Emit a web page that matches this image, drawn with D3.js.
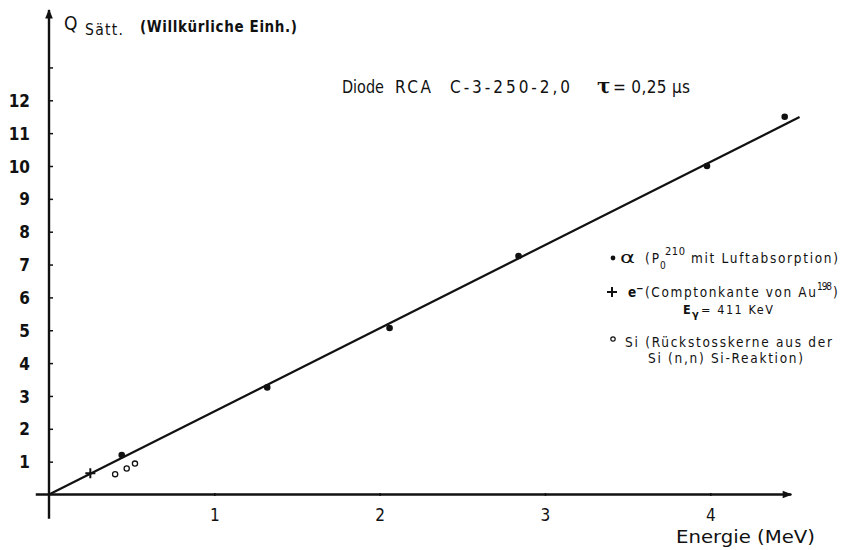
<!DOCTYPE html>
<html>
<head>
<meta charset="utf-8">
<script src="https://cdn.jsdelivr.net/npm/d3@7"></script>
<style>
  html, body { margin: 0; padding: 0; background: #fff; }
  svg { display: block; }
  text { font-family: "DejaVu Sans Condensed", "DejaVu Sans", sans-serif; fill: #111; }
</style>
</head>
<body>
<svg id="chart" width="865" height="550"></svg>
<script>
// Measured saturation charge vs. particle energy
const alphaEnergy = [0.44, 1.32, 2.06, 2.84, 3.98, 4.45];
const alphaCharge = [1.20, 3.26, 5.07, 7.26, 10.0, 11.5];
const electronEnergy = [0.25];
const electronCharge = [0.65];
const siEnergy = [0.40, 0.47, 0.52];
const siCharge = [0.62, 0.79, 0.94];
// Straight-line fit through the origin
const fitEnergy = [0, 4.54];
const fitCharge = [0, 11.49];

const xTicks = [1, 2, 3, 4];
const yTicks = [1, 2, 3, 4, 5, 6, 7, 8, 9, 10, 11, 12, 13];
const yTickLabels = ["1", "2", "3", "4", "5", "6", "7", "8", "9", "10", "11", "12", ""];

const svg = d3.select("#chart");
const x = d3.scaleLinear().domain([0, 4]).range([49, 710.3]);
const y = d3.scaleLinear().domain([0, 12]).range([494.5, 100.3]);
const ink = "#111";

// Axes lines with arrow heads
svg.append("defs").append("marker")
  .attr("id", "arrow").attr("viewBox", "0 0 10 10")
  .attr("refX", 9).attr("refY", 5)
  .attr("markerWidth", 5).attr("markerHeight", 4)
  .attr("orient", "auto")
  .append("path").attr("d", "M0,1 L10,5 L0,9 Z").attr("fill", ink);

svg.append("line")
  .attr("x1", x(-0.08)).attr("x2", x(4.49))
  .attr("y1", y(0)).attr("y2", y(0))
  .attr("stroke", ink).attr("stroke-width", 2.4)
  .attr("marker-end", "url(#arrow)");
svg.append("line")
  .attr("x1", x(0)).attr("x2", x(0))
  .attr("y1", y(-0.74)).attr("y2", y(14.75))
  .attr("stroke", ink).attr("stroke-width", 2.4)
  .attr("marker-end", "url(#arrow)");

// X axis ticks and labels
const xAxis = d3.axisBottom(x).tickValues(xTicks).tickSize(3).tickFormat(d3.format("d"));
const gx = svg.append("g").attr("transform", `translate(0,${y(0) - 1.5})`).call(xAxis);
gx.select(".domain").remove();
gx.selectAll(".tick line").attr("stroke", ink).attr("stroke-width", 1.5);
gx.selectAll(".tick text")
  .attr("y", 16).attr("dy", "0.71em")
  .style("font-family", "'DejaVu Sans Condensed', sans-serif")
  .style("font-size", "17px").attr("fill", ink);

// Y axis ticks and labels
const yAxis = d3.axisRight(y).tickValues(yTicks).tickSize(5)
  .tickFormat((d, i) => yTickLabels[i]);
const gy = svg.append("g").attr("transform", `translate(${x(0) - 1},0)`).call(yAxis);
gy.select(".domain").remove();
gy.selectAll(".tick line").attr("stroke", ink).attr("stroke-width", 1.5);
gy.selectAll(".tick text")
  .attr("x", -18).attr("text-anchor", "end").attr("dy", "0.36em")
  .style("font-family", "'DejaVu Sans Condensed', sans-serif")
  .style("font-weight", "bold")
  .style("font-size", "17px").attr("fill", ink);

// Fit line
const line = d3.line().x(d => x(d[0])).y(d => y(d[1]));
svg.append("path")
  .datum(d3.zip(fitEnergy, fitCharge))
  .attr("d", line)
  .attr("fill", "none").attr("stroke", ink).attr("stroke-width", 2.2);

// Alpha points (filled dots)
svg.append("g").selectAll("circle")
  .data(d3.zip(alphaEnergy, alphaCharge)).join("circle")
  .attr("cx", d => x(d[0])).attr("cy", d => y(d[1]))
  .attr("r", 3.3).attr("fill", ink);

// Electron points (plus)
svg.append("g").selectAll("path")
  .data(d3.zip(electronEnergy, electronCharge)).join("path")
  .attr("transform", d => `translate(${x(d[0])},${y(d[1])})`)
  .attr("d", "M-5,0H5M0,-5V5")
  .attr("stroke", ink).attr("stroke-width", 2);

// Si recoil points (open circles)
svg.append("g").selectAll("circle")
  .data(d3.zip(siEnergy, siCharge)).join("circle")
  .attr("cx", d => x(d[0])).attr("cy", d => y(d[1]))
  .attr("r", 2.6).attr("fill", "#fff").attr("stroke", ink).attr("stroke-width", 1.3);

// Helper to place text spread over a given width
function label(txt, x0, x1, base, size, opts = {}) {
  const t = svg.append("text")
    .attr("x", x0).attr("y", base)
    .style("font-size", size + "px")
    .text(txt);
  if (opts.weight) t.style("font-weight", opts.weight);
  if (opts.family) t.style("font-family", opts.family);
  if (x1 != null) t.attr("textLength", x1 - x0).attr("lengthAdjust", opts.adjust || "spacing");
  return t;
}

// Y axis title
label("Q", 64, 80, 30, 19);
label("Sätt.", 85, 123, 35, 15.5);
label("(Willkürliche Einh.)", 140, 297, 32, 15, { weight: "bold" });

// X axis title
label("Energie (MeV)", 676, 815, 543, 18, { adjust: "spacingAndGlyphs" });

// Heading
label("Diode", 342, 384, 93, 17, { adjust: "spacingAndGlyphs" });
label("RCA", 395, 431, 93, 17);
label("C-3-250-2,0", 450, 570, 93, 17);
label("τ", 597, 611, 93, 20, { weight: "bold", family: "'DejaVu Serif', serif" });
label("= 0,25 µs", 613, 690, 93, 17);

// Legend
const lg = svg.append("g");
lg.append("circle").attr("cx", 613).attr("cy", 258).attr("r", 2.4).attr("fill", ink);
label("α", 620, 635, 263, 16, { adjust: "spacingAndGlyphs" });
label("(P", 645, 659, 263, 13.5);
label("0", 660, 667, 269, 10);
label("210", 665, 685, 255, 11);
label("mit Luftabsorption)", 691, 838, 263, 13.5);

lg.append("path").attr("d", "M607,292H617M612,287V297").attr("stroke", ink).attr("stroke-width", 2);
label("e", 628, 636, 297, 13.5, { weight: "bold" });
label("−", 636, 641, 292, 10, { weight: "bold" });
label("(Comptonkante von Au", 645, 816, 297, 13.5);
label("198", 817, 832, 290, 10);
label(")", 833, 838, 297, 13.5);
label("E", 683, 692, 314, 12.5, { weight: "bold" });
label("γ", 692, 699, 318, 11, { weight: "bold" });
label("= 411 KeV", 701, 773, 314, 12.5);

lg.append("circle").attr("cx", 613).attr("cy", 339).attr("r", 2.2)
  .attr("fill", "#fff").attr("stroke", ink).attr("stroke-width", 1.2);
label("Si (Rückstosskerne aus der", 625, 832, 347, 13.5);
label("Si (n,n) Si-Reaktion)", 648, 803, 363, 13.5);
</script>
</body>
</html>
